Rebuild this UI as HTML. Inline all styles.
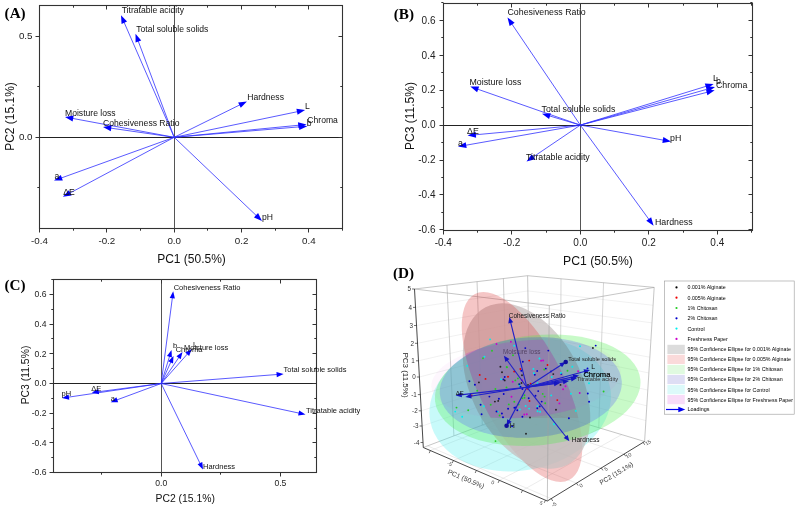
<!DOCTYPE html><html><head><meta charset="utf-8"><style>html,body{margin:0;padding:0;background:#fff;width:797px;height:508px;overflow:hidden}svg{display:block;will-change:transform}</style></head><body>
<svg width="797" height="508" viewBox="0 0 797 508">
<rect width="797" height="508" fill="#fff"/>
<rect x="39.5" y="5.5" width="303.0" height="223.0" fill="none" stroke="#333" stroke-width="1.1"/>
<line x1="174.50" y1="5.50" x2="174.50" y2="228.50" stroke="#555" stroke-width="1.0" />
<line x1="39.50" y1="137.50" x2="342.50" y2="137.50" stroke="#222" stroke-width="1.0" />
<line x1="39.50" y1="228.50" x2="39.50" y2="232.50" stroke="#333" stroke-width="1.0" />
<line x1="39.50" y1="5.50" x2="39.50" y2="9.50" stroke="#333" stroke-width="1.0" />
<line x1="73.50" y1="228.50" x2="73.50" y2="230.70" stroke="#333" stroke-width="1.0" />
<line x1="73.50" y1="5.50" x2="73.50" y2="7.70" stroke="#333" stroke-width="1.0" />
<line x1="106.50" y1="228.50" x2="106.50" y2="232.50" stroke="#333" stroke-width="1.0" />
<line x1="106.50" y1="5.50" x2="106.50" y2="9.50" stroke="#333" stroke-width="1.0" />
<line x1="140.50" y1="228.50" x2="140.50" y2="230.70" stroke="#333" stroke-width="1.0" />
<line x1="140.50" y1="5.50" x2="140.50" y2="7.70" stroke="#333" stroke-width="1.0" />
<line x1="174.50" y1="228.50" x2="174.50" y2="232.50" stroke="#333" stroke-width="1.0" />
<line x1="174.50" y1="5.50" x2="174.50" y2="9.50" stroke="#333" stroke-width="1.0" />
<line x1="207.50" y1="228.50" x2="207.50" y2="230.70" stroke="#333" stroke-width="1.0" />
<line x1="207.50" y1="5.50" x2="207.50" y2="7.70" stroke="#333" stroke-width="1.0" />
<line x1="241.50" y1="228.50" x2="241.50" y2="232.50" stroke="#333" stroke-width="1.0" />
<line x1="241.50" y1="5.50" x2="241.50" y2="9.50" stroke="#333" stroke-width="1.0" />
<line x1="275.50" y1="228.50" x2="275.50" y2="230.70" stroke="#333" stroke-width="1.0" />
<line x1="275.50" y1="5.50" x2="275.50" y2="7.70" stroke="#333" stroke-width="1.0" />
<line x1="308.50" y1="228.50" x2="308.50" y2="232.50" stroke="#333" stroke-width="1.0" />
<line x1="308.50" y1="5.50" x2="308.50" y2="9.50" stroke="#333" stroke-width="1.0" />
<line x1="342.50" y1="228.50" x2="342.50" y2="230.70" stroke="#333" stroke-width="1.0" />
<line x1="342.50" y1="5.50" x2="342.50" y2="7.70" stroke="#333" stroke-width="1.0" />
<line x1="39.50" y1="187.50" x2="37.30" y2="187.50" stroke="#333" stroke-width="1.0" />
<line x1="342.50" y1="187.50" x2="340.30" y2="187.50" stroke="#333" stroke-width="1.0" />
<line x1="39.50" y1="137.50" x2="35.50" y2="137.50" stroke="#333" stroke-width="1.0" />
<line x1="342.50" y1="137.50" x2="338.50" y2="137.50" stroke="#333" stroke-width="1.0" />
<line x1="39.50" y1="86.50" x2="37.30" y2="86.50" stroke="#333" stroke-width="1.0" />
<line x1="342.50" y1="86.50" x2="340.30" y2="86.50" stroke="#333" stroke-width="1.0" />
<line x1="39.50" y1="36.50" x2="35.50" y2="36.50" stroke="#333" stroke-width="1.0" />
<line x1="342.50" y1="36.50" x2="338.50" y2="36.50" stroke="#333" stroke-width="1.0" />
<text x="39.52" y="244.10" font-family="Liberation Sans" font-size="9.8" text-anchor="middle" fill="#222" font-weight="normal" >-0.4</text>
<text x="106.86" y="244.10" font-family="Liberation Sans" font-size="9.8" text-anchor="middle" fill="#222" font-weight="normal" >-0.2</text>
<text x="174.20" y="244.10" font-family="Liberation Sans" font-size="9.8" text-anchor="middle" fill="#222" font-weight="normal" >0.0</text>
<text x="241.54" y="244.10" font-family="Liberation Sans" font-size="9.8" text-anchor="middle" fill="#222" font-weight="normal" >0.2</text>
<text x="308.88" y="244.10" font-family="Liberation Sans" font-size="9.8" text-anchor="middle" fill="#222" font-weight="normal" >0.4</text>
<text x="32.50" y="140.44" font-family="Liberation Sans" font-size="9.8" text-anchor="end" fill="#222" font-weight="normal" >0.0</text>
<text x="32.50" y="39.14" font-family="Liberation Sans" font-size="9.8" text-anchor="end" fill="#222" font-weight="normal" >0.5</text>
<line x1="174.20" y1="137.30" x2="123.92" y2="21.89" stroke="#3030ff" stroke-width="0.8"/>
<polygon points="121.00,15.20 127.07,21.61 121.57,24.01" fill="#0000ff"/>
<line x1="174.20" y1="137.30" x2="138.06" y2="40.64" stroke="#3030ff" stroke-width="0.8"/>
<polygon points="135.50,33.80 141.22,40.52 135.60,42.62" fill="#0000ff"/>
<line x1="174.20" y1="137.30" x2="240.35" y2="104.63" stroke="#3030ff" stroke-width="0.8"/>
<polygon points="246.90,101.40 240.79,107.76 238.13,102.39" fill="#0000ff"/>
<line x1="174.20" y1="137.30" x2="297.95" y2="111.59" stroke="#3030ff" stroke-width="0.8"/>
<polygon points="305.10,110.10 297.58,114.73 296.36,108.85" fill="#0000ff"/>
<line x1="174.20" y1="137.30" x2="300.03" y2="126.81" stroke="#3030ff" stroke-width="0.8"/>
<polygon points="307.30,126.20 299.28,129.88 298.78,123.90" fill="#0000ff"/>
<line x1="174.20" y1="137.30" x2="299.23" y2="125.20" stroke="#3030ff" stroke-width="0.8"/>
<polygon points="306.50,124.50 298.53,128.29 297.95,122.31" fill="#0000ff"/>
<line x1="174.20" y1="137.30" x2="72.18" y2="118.33" stroke="#3030ff" stroke-width="0.8"/>
<polygon points="65.00,117.00 73.71,115.57 72.61,121.47" fill="#0000ff"/>
<line x1="174.20" y1="137.30" x2="110.22" y2="128.05" stroke="#3030ff" stroke-width="0.8"/>
<polygon points="103.00,127.00 111.64,125.22 110.78,131.16" fill="#0000ff"/>
<line x1="174.20" y1="137.30" x2="60.87" y2="178.13" stroke="#3030ff" stroke-width="0.8"/>
<polygon points="54.00,180.60 60.79,174.96 62.83,180.61" fill="#0000ff"/>
<line x1="174.20" y1="137.30" x2="69.34" y2="193.36" stroke="#3030ff" stroke-width="0.8"/>
<polygon points="62.90,196.80 68.81,190.24 71.63,195.53" fill="#0000ff"/>
<line x1="174.20" y1="137.30" x2="256.72" y2="215.96" stroke="#3030ff" stroke-width="0.8"/>
<polygon points="262.00,221.00 253.92,217.44 258.06,213.10" fill="#0000ff"/>
<text x="121.70" y="13.40" font-family="Liberation Sans" font-size="8.6" text-anchor="start" fill="#111" font-weight="normal" >Titratable acidity</text>
<text x="136.20" y="32.00" font-family="Liberation Sans" font-size="8.6" text-anchor="start" fill="#111" font-weight="normal" >Total soluble solids</text>
<text x="247.20" y="99.70" font-family="Liberation Sans" font-size="8.6" text-anchor="start" fill="#111" font-weight="normal" >Hardness</text>
<text x="305.00" y="108.50" font-family="Liberation Sans" font-size="8.6" text-anchor="start" fill="#111" font-weight="normal" >L</text>
<text x="306.80" y="125.60" font-family="Liberation Sans" font-size="8.6" text-anchor="start" fill="#111" font-weight="normal" >b</text>
<text x="307.30" y="123.40" font-family="Liberation Sans" font-size="8.6" text-anchor="start" fill="#111" font-weight="normal" >Chroma</text>
<text x="65.00" y="116.00" font-family="Liberation Sans" font-size="8.6" text-anchor="start" fill="#111" font-weight="normal" >Moisture loss</text>
<text x="103.00" y="125.50" font-family="Liberation Sans" font-size="8.6" text-anchor="start" fill="#111" font-weight="normal" >Cohesiveness Ratio</text>
<text x="54.60" y="179.00" font-family="Liberation Sans" font-size="8.6" text-anchor="start" fill="#111" font-weight="normal" >a</text>
<text x="63.20" y="195.00" font-family="Liberation Sans" font-size="8.6" text-anchor="start" fill="#111" font-weight="normal" >ΔE</text>
<text x="262.00" y="220.00" font-family="Liberation Sans" font-size="8.6" text-anchor="start" fill="#111" font-weight="normal" >pH</text>
<text x="191.50" y="262.50" font-family="Liberation Sans" font-size="12" text-anchor="middle" fill="#111" font-weight="normal" >PC1 (50.5%)</text>
<text x="14.30" y="116.50" font-family="Liberation Sans" font-size="12" text-anchor="middle" fill="#111" font-weight="normal" transform="rotate(-90 14.3 116.5)">PC2 (15.1%)</text>
<text x="4.60" y="17.90" font-family="Liberation Serif" font-size="15.2" text-anchor="start" fill="#000" font-weight="bold" >(A)</text>
<rect x="443.5" y="3.5" width="309.0" height="227.0" fill="none" stroke="#333" stroke-width="1.1"/>
<line x1="580.50" y1="3.50" x2="580.50" y2="230.50" stroke="#555" stroke-width="1.0" />
<line x1="443.50" y1="125.50" x2="752.50" y2="125.50" stroke="#222" stroke-width="1.0" />
<line x1="443.50" y1="230.50" x2="443.50" y2="234.50" stroke="#333" stroke-width="1.0" />
<line x1="443.50" y1="3.50" x2="443.50" y2="7.50" stroke="#333" stroke-width="1.0" />
<line x1="477.50" y1="230.50" x2="477.50" y2="232.70" stroke="#333" stroke-width="1.0" />
<line x1="477.50" y1="3.50" x2="477.50" y2="5.70" stroke="#333" stroke-width="1.0" />
<line x1="511.50" y1="230.50" x2="511.50" y2="234.50" stroke="#333" stroke-width="1.0" />
<line x1="511.50" y1="3.50" x2="511.50" y2="7.50" stroke="#333" stroke-width="1.0" />
<line x1="546.50" y1="230.50" x2="546.50" y2="232.70" stroke="#333" stroke-width="1.0" />
<line x1="546.50" y1="3.50" x2="546.50" y2="5.70" stroke="#333" stroke-width="1.0" />
<line x1="580.50" y1="230.50" x2="580.50" y2="234.50" stroke="#333" stroke-width="1.0" />
<line x1="580.50" y1="3.50" x2="580.50" y2="7.50" stroke="#333" stroke-width="1.0" />
<line x1="614.50" y1="230.50" x2="614.50" y2="232.70" stroke="#333" stroke-width="1.0" />
<line x1="614.50" y1="3.50" x2="614.50" y2="5.70" stroke="#333" stroke-width="1.0" />
<line x1="648.50" y1="230.50" x2="648.50" y2="234.50" stroke="#333" stroke-width="1.0" />
<line x1="648.50" y1="3.50" x2="648.50" y2="7.50" stroke="#333" stroke-width="1.0" />
<line x1="683.50" y1="230.50" x2="683.50" y2="232.70" stroke="#333" stroke-width="1.0" />
<line x1="683.50" y1="3.50" x2="683.50" y2="5.70" stroke="#333" stroke-width="1.0" />
<line x1="717.50" y1="230.50" x2="717.50" y2="234.50" stroke="#333" stroke-width="1.0" />
<line x1="717.50" y1="3.50" x2="717.50" y2="7.50" stroke="#333" stroke-width="1.0" />
<line x1="751.50" y1="230.50" x2="751.50" y2="232.70" stroke="#333" stroke-width="1.0" />
<line x1="751.50" y1="3.50" x2="751.50" y2="5.70" stroke="#333" stroke-width="1.0" />
<line x1="443.50" y1="229.50" x2="439.50" y2="229.50" stroke="#333" stroke-width="1.0" />
<line x1="752.50" y1="229.50" x2="748.50" y2="229.50" stroke="#333" stroke-width="1.0" />
<line x1="443.50" y1="212.50" x2="441.30" y2="212.50" stroke="#333" stroke-width="1.0" />
<line x1="752.50" y1="212.50" x2="750.30" y2="212.50" stroke="#333" stroke-width="1.0" />
<line x1="443.50" y1="194.50" x2="439.50" y2="194.50" stroke="#333" stroke-width="1.0" />
<line x1="752.50" y1="194.50" x2="748.50" y2="194.50" stroke="#333" stroke-width="1.0" />
<line x1="443.50" y1="177.50" x2="441.30" y2="177.50" stroke="#333" stroke-width="1.0" />
<line x1="752.50" y1="177.50" x2="750.30" y2="177.50" stroke="#333" stroke-width="1.0" />
<line x1="443.50" y1="160.50" x2="439.50" y2="160.50" stroke="#333" stroke-width="1.0" />
<line x1="752.50" y1="160.50" x2="748.50" y2="160.50" stroke="#333" stroke-width="1.0" />
<line x1="443.50" y1="142.50" x2="441.30" y2="142.50" stroke="#333" stroke-width="1.0" />
<line x1="752.50" y1="142.50" x2="750.30" y2="142.50" stroke="#333" stroke-width="1.0" />
<line x1="443.50" y1="125.50" x2="439.50" y2="125.50" stroke="#333" stroke-width="1.0" />
<line x1="752.50" y1="125.50" x2="748.50" y2="125.50" stroke="#333" stroke-width="1.0" />
<line x1="443.50" y1="107.50" x2="441.30" y2="107.50" stroke="#333" stroke-width="1.0" />
<line x1="752.50" y1="107.50" x2="750.30" y2="107.50" stroke="#333" stroke-width="1.0" />
<line x1="443.50" y1="90.50" x2="439.50" y2="90.50" stroke="#333" stroke-width="1.0" />
<line x1="752.50" y1="90.50" x2="748.50" y2="90.50" stroke="#333" stroke-width="1.0" />
<line x1="443.50" y1="72.50" x2="441.30" y2="72.50" stroke="#333" stroke-width="1.0" />
<line x1="752.50" y1="72.50" x2="750.30" y2="72.50" stroke="#333" stroke-width="1.0" />
<line x1="443.50" y1="55.50" x2="439.50" y2="55.50" stroke="#333" stroke-width="1.0" />
<line x1="752.50" y1="55.50" x2="748.50" y2="55.50" stroke="#333" stroke-width="1.0" />
<line x1="443.50" y1="37.50" x2="441.30" y2="37.50" stroke="#333" stroke-width="1.0" />
<line x1="752.50" y1="37.50" x2="750.30" y2="37.50" stroke="#333" stroke-width="1.0" />
<line x1="443.50" y1="20.50" x2="439.50" y2="20.50" stroke="#333" stroke-width="1.0" />
<line x1="752.50" y1="20.50" x2="748.50" y2="20.50" stroke="#333" stroke-width="1.0" />
<line x1="443.50" y1="2.50" x2="441.30" y2="2.50" stroke="#333" stroke-width="1.0" />
<line x1="752.50" y1="2.50" x2="750.30" y2="2.50" stroke="#333" stroke-width="1.0" />
<text x="443.30" y="246.30" font-family="Liberation Sans" font-size="10" text-anchor="middle" fill="#222" font-weight="normal" >-0.4</text>
<text x="511.80" y="246.30" font-family="Liberation Sans" font-size="10" text-anchor="middle" fill="#222" font-weight="normal" >-0.2</text>
<text x="580.30" y="246.30" font-family="Liberation Sans" font-size="10" text-anchor="middle" fill="#222" font-weight="normal" >0.0</text>
<text x="648.80" y="246.30" font-family="Liberation Sans" font-size="10" text-anchor="middle" fill="#222" font-weight="normal" >0.2</text>
<text x="717.30" y="246.30" font-family="Liberation Sans" font-size="10" text-anchor="middle" fill="#222" font-weight="normal" >0.4</text>
<text x="435.50" y="233.00" font-family="Liberation Sans" font-size="10" text-anchor="end" fill="#222" font-weight="normal" >-0.6</text>
<text x="435.50" y="198.10" font-family="Liberation Sans" font-size="10" text-anchor="end" fill="#222" font-weight="normal" >-0.4</text>
<text x="435.50" y="163.20" font-family="Liberation Sans" font-size="10" text-anchor="end" fill="#222" font-weight="normal" >-0.2</text>
<text x="435.50" y="128.30" font-family="Liberation Sans" font-size="10" text-anchor="end" fill="#222" font-weight="normal" >0.0</text>
<text x="435.50" y="93.40" font-family="Liberation Sans" font-size="10" text-anchor="end" fill="#222" font-weight="normal" >0.2</text>
<text x="435.50" y="58.50" font-family="Liberation Sans" font-size="10" text-anchor="end" fill="#222" font-weight="normal" >0.4</text>
<text x="435.50" y="23.60" font-family="Liberation Sans" font-size="10" text-anchor="end" fill="#222" font-weight="normal" >0.6</text>
<line x1="580.30" y1="125.10" x2="511.59" y2="23.55" stroke="#3030ff" stroke-width="0.8"/>
<polygon points="507.50,17.50 514.64,22.69 509.67,26.06" fill="#0000ff"/>
<line x1="580.30" y1="125.10" x2="477.19" y2="89.01" stroke="#3030ff" stroke-width="0.8"/>
<polygon points="470.30,86.60 479.13,86.51 477.14,92.17" fill="#0000ff"/>
<line x1="580.30" y1="125.10" x2="549.00" y2="115.78" stroke="#3030ff" stroke-width="0.8"/>
<polygon points="542.00,113.70 550.81,113.19 549.10,118.94" fill="#0000ff"/>
<line x1="580.30" y1="125.10" x2="474.87" y2="134.83" stroke="#3030ff" stroke-width="0.8"/>
<polygon points="467.60,135.50 475.59,131.75 476.14,137.72" fill="#0000ff"/>
<line x1="580.30" y1="125.10" x2="465.19" y2="145.34" stroke="#3030ff" stroke-width="0.8"/>
<polygon points="458.00,146.60 465.66,142.21 466.69,148.12" fill="#0000ff"/>
<line x1="580.30" y1="125.10" x2="532.55" y2="157.41" stroke="#3030ff" stroke-width="0.8"/>
<polygon points="526.50,161.50 531.69,154.36 535.06,159.33" fill="#0000ff"/>
<line x1="580.30" y1="125.10" x2="663.82" y2="140.20" stroke="#3030ff" stroke-width="0.8"/>
<polygon points="671.00,141.50 662.30,142.98 663.37,137.07" fill="#0000ff"/>
<line x1="580.30" y1="125.10" x2="649.30" y2="219.90" stroke="#3030ff" stroke-width="0.8"/>
<polygon points="653.60,225.80 646.29,220.86 651.14,217.32" fill="#0000ff"/>
<line x1="580.30" y1="125.10" x2="706.62" y2="86.15" stroke="#3030ff" stroke-width="0.8"/>
<polygon points="713.60,84.00 706.55,89.31 704.78,83.58" fill="#0000ff"/>
<line x1="580.30" y1="125.10" x2="707.98" y2="88.99" stroke="#3030ff" stroke-width="0.8"/>
<polygon points="715.00,87.00 707.83,92.15 706.20,86.37" fill="#0000ff"/>
<line x1="580.30" y1="125.10" x2="707.63" y2="92.13" stroke="#3030ff" stroke-width="0.8"/>
<polygon points="714.70,90.30 707.42,95.28 705.91,89.48" fill="#0000ff"/>
<text x="507.50" y="15.00" font-family="Liberation Sans" font-size="8.8" text-anchor="start" fill="#111" font-weight="normal" >Cohesiveness Ratio</text>
<text x="469.50" y="85.00" font-family="Liberation Sans" font-size="8.8" text-anchor="start" fill="#111" font-weight="normal" >Moisture loss</text>
<text x="541.50" y="112.20" font-family="Liberation Sans" font-size="8.8" text-anchor="start" fill="#111" font-weight="normal" >Total soluble solids</text>
<text x="467.00" y="134.00" font-family="Liberation Sans" font-size="8.8" text-anchor="start" fill="#111" font-weight="normal" >ΔE</text>
<text x="458.00" y="145.50" font-family="Liberation Sans" font-size="8.8" text-anchor="start" fill="#111" font-weight="normal" >a</text>
<text x="526.00" y="159.80" font-family="Liberation Sans" font-size="8.8" text-anchor="start" fill="#111" font-weight="normal" >Titratable acidity</text>
<text x="670.00" y="140.50" font-family="Liberation Sans" font-size="8.8" text-anchor="start" fill="#111" font-weight="normal" >pH</text>
<text x="655.00" y="224.50" font-family="Liberation Sans" font-size="8.8" text-anchor="start" fill="#111" font-weight="normal" >Hardness</text>
<text x="713.00" y="80.50" font-family="Liberation Sans" font-size="8.8" text-anchor="start" fill="#111" font-weight="normal" >L</text>
<text x="716.00" y="84.00" font-family="Liberation Sans" font-size="8.8" text-anchor="start" fill="#111" font-weight="normal" >b</text>
<text x="716.00" y="88.00" font-family="Liberation Sans" font-size="8.8" text-anchor="start" fill="#111" font-weight="normal" >Chroma</text>
<text x="598.00" y="264.50" font-family="Liberation Sans" font-size="12.2" text-anchor="middle" fill="#111" font-weight="normal" >PC1 (50.5%)</text>
<text x="414.30" y="116.00" font-family="Liberation Sans" font-size="12" text-anchor="middle" fill="#111" font-weight="normal" transform="rotate(-90 414.3 116)">PC3 (11.5%)</text>
<text x="393.80" y="18.60" font-family="Liberation Serif" font-size="15.2" text-anchor="start" fill="#000" font-weight="bold" >(B)</text>
<rect x="53.5" y="279.5" width="263.0" height="193.0" fill="none" stroke="#333" stroke-width="1.1"/>
<line x1="161.50" y1="279.50" x2="161.50" y2="472.50" stroke="#555" stroke-width="1.0" />
<line x1="53.50" y1="383.50" x2="316.50" y2="383.50" stroke="#222" stroke-width="1.0" />
<line x1="101.50" y1="472.50" x2="101.50" y2="474.70" stroke="#333" stroke-width="1.0" />
<line x1="101.50" y1="279.50" x2="101.50" y2="281.70" stroke="#333" stroke-width="1.0" />
<line x1="161.50" y1="472.50" x2="161.50" y2="476.50" stroke="#333" stroke-width="1.0" />
<line x1="161.50" y1="279.50" x2="161.50" y2="283.50" stroke="#333" stroke-width="1.0" />
<line x1="220.50" y1="472.50" x2="220.50" y2="474.70" stroke="#333" stroke-width="1.0" />
<line x1="220.50" y1="279.50" x2="220.50" y2="281.70" stroke="#333" stroke-width="1.0" />
<line x1="280.50" y1="472.50" x2="280.50" y2="476.50" stroke="#333" stroke-width="1.0" />
<line x1="280.50" y1="279.50" x2="280.50" y2="283.50" stroke="#333" stroke-width="1.0" />
<line x1="53.50" y1="472.50" x2="49.50" y2="472.50" stroke="#333" stroke-width="1.0" />
<line x1="316.50" y1="472.50" x2="312.50" y2="472.50" stroke="#333" stroke-width="1.0" />
<line x1="53.50" y1="457.50" x2="51.30" y2="457.50" stroke="#333" stroke-width="1.0" />
<line x1="316.50" y1="457.50" x2="314.30" y2="457.50" stroke="#333" stroke-width="1.0" />
<line x1="53.50" y1="442.50" x2="49.50" y2="442.50" stroke="#333" stroke-width="1.0" />
<line x1="316.50" y1="442.50" x2="312.50" y2="442.50" stroke="#333" stroke-width="1.0" />
<line x1="53.50" y1="428.50" x2="51.30" y2="428.50" stroke="#333" stroke-width="1.0" />
<line x1="316.50" y1="428.50" x2="314.30" y2="428.50" stroke="#333" stroke-width="1.0" />
<line x1="53.50" y1="413.50" x2="49.50" y2="413.50" stroke="#333" stroke-width="1.0" />
<line x1="316.50" y1="413.50" x2="312.50" y2="413.50" stroke="#333" stroke-width="1.0" />
<line x1="53.50" y1="398.50" x2="51.30" y2="398.50" stroke="#333" stroke-width="1.0" />
<line x1="316.50" y1="398.50" x2="314.30" y2="398.50" stroke="#333" stroke-width="1.0" />
<line x1="53.50" y1="383.50" x2="49.50" y2="383.50" stroke="#333" stroke-width="1.0" />
<line x1="316.50" y1="383.50" x2="312.50" y2="383.50" stroke="#333" stroke-width="1.0" />
<line x1="53.50" y1="368.50" x2="51.30" y2="368.50" stroke="#333" stroke-width="1.0" />
<line x1="316.50" y1="368.50" x2="314.30" y2="368.50" stroke="#333" stroke-width="1.0" />
<line x1="53.50" y1="353.50" x2="49.50" y2="353.50" stroke="#333" stroke-width="1.0" />
<line x1="316.50" y1="353.50" x2="312.50" y2="353.50" stroke="#333" stroke-width="1.0" />
<line x1="53.50" y1="338.50" x2="51.30" y2="338.50" stroke="#333" stroke-width="1.0" />
<line x1="316.50" y1="338.50" x2="314.30" y2="338.50" stroke="#333" stroke-width="1.0" />
<line x1="53.50" y1="324.50" x2="49.50" y2="324.50" stroke="#333" stroke-width="1.0" />
<line x1="316.50" y1="324.50" x2="312.50" y2="324.50" stroke="#333" stroke-width="1.0" />
<line x1="53.50" y1="309.50" x2="51.30" y2="309.50" stroke="#333" stroke-width="1.0" />
<line x1="316.50" y1="309.50" x2="314.30" y2="309.50" stroke="#333" stroke-width="1.0" />
<line x1="53.50" y1="294.50" x2="49.50" y2="294.50" stroke="#333" stroke-width="1.0" />
<line x1="316.50" y1="294.50" x2="312.50" y2="294.50" stroke="#333" stroke-width="1.0" />
<line x1="53.50" y1="279.50" x2="51.30" y2="279.50" stroke="#333" stroke-width="1.0" />
<line x1="316.50" y1="279.50" x2="314.30" y2="279.50" stroke="#333" stroke-width="1.0" />
<text x="161.20" y="486.10" font-family="Liberation Sans" font-size="8.6" text-anchor="middle" fill="#222" font-weight="normal" >0.0</text>
<text x="280.40" y="486.10" font-family="Liberation Sans" font-size="8.6" text-anchor="middle" fill="#222" font-weight="normal" >0.5</text>
<text x="46.50" y="475.47" font-family="Liberation Sans" font-size="8.6" text-anchor="end" fill="#222" font-weight="normal" >-0.6</text>
<text x="46.50" y="445.73" font-family="Liberation Sans" font-size="8.6" text-anchor="end" fill="#222" font-weight="normal" >-0.4</text>
<text x="46.50" y="415.99" font-family="Liberation Sans" font-size="8.6" text-anchor="end" fill="#222" font-weight="normal" >-0.2</text>
<text x="46.50" y="386.25" font-family="Liberation Sans" font-size="8.6" text-anchor="end" fill="#222" font-weight="normal" >0.0</text>
<text x="46.50" y="356.51" font-family="Liberation Sans" font-size="8.6" text-anchor="end" fill="#222" font-weight="normal" >0.2</text>
<text x="46.50" y="326.77" font-family="Liberation Sans" font-size="8.6" text-anchor="end" fill="#222" font-weight="normal" >0.4</text>
<text x="46.50" y="297.03" font-family="Liberation Sans" font-size="8.6" text-anchor="end" fill="#222" font-weight="normal" >0.6</text>
<line x1="161.20" y1="383.50" x2="172.43" y2="297.25" stroke="#3030ff" stroke-width="0.8"/>
<polygon points="173.20,291.30 174.87,298.58 169.72,297.91" fill="#0000ff"/>
<line x1="161.20" y1="383.50" x2="169.74" y2="355.74" stroke="#3030ff" stroke-width="0.8"/>
<polygon points="171.50,350.00 171.93,357.45 166.96,355.93" fill="#0000ff"/>
<line x1="161.20" y1="383.50" x2="171.05" y2="361.48" stroke="#3030ff" stroke-width="0.8"/>
<polygon points="173.50,356.00 173.02,363.45 168.27,361.33" fill="#0000ff"/>
<line x1="161.20" y1="383.50" x2="179.14" y2="356.97" stroke="#3030ff" stroke-width="0.8"/>
<polygon points="182.50,352.00 180.73,359.26 176.43,356.34" fill="#0000ff"/>
<line x1="161.20" y1="383.50" x2="187.82" y2="353.49" stroke="#3030ff" stroke-width="0.8"/>
<polygon points="191.80,349.00 189.10,355.96 185.21,352.51" fill="#0000ff"/>
<line x1="161.20" y1="383.50" x2="277.62" y2="374.46" stroke="#3030ff" stroke-width="0.8"/>
<polygon points="283.60,374.00 276.82,377.13 276.42,371.95" fill="#0000ff"/>
<line x1="161.20" y1="383.50" x2="299.63" y2="413.24" stroke="#3030ff" stroke-width="0.8"/>
<polygon points="305.50,414.50 298.11,415.57 299.20,410.49" fill="#0000ff"/>
<line x1="161.20" y1="383.50" x2="200.38" y2="464.10" stroke="#3030ff" stroke-width="0.8"/>
<polygon points="203.00,469.50 197.60,464.34 202.28,462.07" fill="#0000ff"/>
<line x1="161.20" y1="383.50" x2="67.94" y2="397.23" stroke="#3030ff" stroke-width="0.8"/>
<polygon points="62.00,398.10 68.55,394.51 69.30,399.65" fill="#0000ff"/>
<line x1="161.20" y1="383.50" x2="97.75" y2="391.82" stroke="#3030ff" stroke-width="0.8"/>
<polygon points="91.80,392.60 98.40,389.11 99.08,394.27" fill="#0000ff"/>
<line x1="161.20" y1="383.50" x2="116.33" y2="400.12" stroke="#3030ff" stroke-width="0.8"/>
<polygon points="110.70,402.20 116.36,397.33 118.17,402.21" fill="#0000ff"/>
<text x="173.70" y="290.00" font-family="Liberation Sans" font-size="7.5" text-anchor="start" fill="#111" font-weight="normal" >Cohesiveness Ratio</text>
<text x="173.00" y="348.00" font-family="Liberation Sans" font-size="7.5" text-anchor="start" fill="#111" font-weight="normal" >b</text>
<text x="175.70" y="352.00" font-family="Liberation Sans" font-size="7.5" text-anchor="start" fill="#111" font-weight="normal" >Chroma</text>
<text x="184.00" y="349.50" font-family="Liberation Sans" font-size="7.5" text-anchor="start" fill="#111" font-weight="normal" >Moisture loss</text>
<text x="193.00" y="347.00" font-family="Liberation Sans" font-size="7.5" text-anchor="start" fill="#111" font-weight="normal" >L</text>
<text x="283.60" y="372.00" font-family="Liberation Sans" font-size="7.5" text-anchor="start" fill="#111" font-weight="normal" >Total soluble solids</text>
<text x="306.00" y="413.20" font-family="Liberation Sans" font-size="7.5" text-anchor="start" fill="#111" font-weight="normal" >Titratable acidity</text>
<text x="203.00" y="468.50" font-family="Liberation Sans" font-size="7.5" text-anchor="start" fill="#111" font-weight="normal" >Hardness</text>
<text x="61.50" y="396.40" font-family="Liberation Sans" font-size="7.5" text-anchor="start" fill="#111" font-weight="normal" >pH</text>
<text x="91.30" y="391.30" font-family="Liberation Sans" font-size="7.5" text-anchor="start" fill="#111" font-weight="normal" >ΔE</text>
<text x="110.70" y="400.70" font-family="Liberation Sans" font-size="7.5" text-anchor="start" fill="#111" font-weight="normal" >a</text>
<text x="185.20" y="502.30" font-family="Liberation Sans" font-size="10.4" text-anchor="middle" fill="#111" font-weight="normal" >PC2 (15.1%)</text>
<text x="28.50" y="375.00" font-family="Liberation Sans" font-size="10.4" text-anchor="middle" fill="#111" font-weight="normal" transform="rotate(-90 28.5 375)">PC3 (11.5%)</text>
<text x="4.40" y="289.60" font-family="Liberation Serif" font-size="15.2" text-anchor="start" fill="#000" font-weight="bold" >(C)</text>
<text x="393.00" y="278.00" font-family="Liberation Serif" font-size="15.2" text-anchor="start" fill="#000" font-weight="bold" >(D)</text>
<line x1="415.52" y1="307.40" x2="527.88" y2="290.94" stroke="#e2e2e2" stroke-width="0.5" />
<line x1="527.88" y1="290.94" x2="653.09" y2="305.29" stroke="#e2e2e2" stroke-width="0.5" />
<line x1="416.53" y1="325.50" x2="528.15" y2="305.94" stroke="#e2e2e2" stroke-width="0.5" />
<line x1="528.15" y1="305.94" x2="651.99" y2="322.89" stroke="#e2e2e2" stroke-width="0.5" />
<line x1="417.51" y1="343.30" x2="528.42" y2="320.68" stroke="#e2e2e2" stroke-width="0.5" />
<line x1="528.42" y1="320.68" x2="650.91" y2="340.19" stroke="#e2e2e2" stroke-width="0.5" />
<line x1="418.49" y1="360.80" x2="528.69" y2="335.18" stroke="#e2e2e2" stroke-width="0.5" />
<line x1="528.69" y1="335.18" x2="649.85" y2="357.21" stroke="#e2e2e2" stroke-width="0.5" />
<line x1="419.39" y1="377.00" x2="528.93" y2="348.60" stroke="#e2e2e2" stroke-width="0.5" />
<line x1="528.93" y1="348.60" x2="648.87" y2="372.96" stroke="#e2e2e2" stroke-width="0.5" />
<line x1="420.36" y1="394.60" x2="529.20" y2="363.18" stroke="#e2e2e2" stroke-width="0.5" />
<line x1="529.20" y1="363.18" x2="647.80" y2="390.07" stroke="#e2e2e2" stroke-width="0.5" />
<line x1="421.26" y1="410.80" x2="529.44" y2="376.60" stroke="#e2e2e2" stroke-width="0.5" />
<line x1="529.44" y1="376.60" x2="646.82" y2="405.82" stroke="#e2e2e2" stroke-width="0.5" />
<line x1="422.11" y1="426.00" x2="529.67" y2="389.19" stroke="#e2e2e2" stroke-width="0.5" />
<line x1="529.67" y1="389.19" x2="645.90" y2="420.60" stroke="#e2e2e2" stroke-width="0.5" />
<line x1="446.96" y1="285.18" x2="453.92" y2="435.88" stroke="#a8a8a8" stroke-width="0.6" />
<line x1="477.04" y1="281.65" x2="482.31" y2="425.10" stroke="#a8a8a8" stroke-width="0.6" />
<line x1="503.40" y1="278.55" x2="507.17" y2="415.67" stroke="#a8a8a8" stroke-width="0.6" />
<line x1="561.02" y1="278.79" x2="560.25" y2="416.11" stroke="#b4b4b4" stroke-width="0.55" />
<line x1="603.56" y1="282.72" x2="598.76" y2="427.70" stroke="#b4b4b4" stroke-width="0.55" />
<line x1="427.57" y1="445.88" x2="551.19" y2="498.62" stroke="#d8d8d8" stroke-width="0.5" />
<line x1="455.31" y1="435.35" x2="576.49" y2="483.15" stroke="#d8d8d8" stroke-width="0.5" />
<line x1="482.52" y1="425.02" x2="601.30" y2="467.98" stroke="#d8d8d8" stroke-width="0.5" />
<line x1="507.59" y1="415.50" x2="624.17" y2="454.00" stroke="#d8d8d8" stroke-width="0.5" />
<line x1="430.37" y1="450.55" x2="536.53" y2="408.97" stroke="#d8d8d8" stroke-width="0.5" />
<line x1="453.43" y1="460.50" x2="557.85" y2="415.38" stroke="#d8d8d8" stroke-width="0.5" />
<line x1="476.37" y1="470.40" x2="579.05" y2="421.77" stroke="#d8d8d8" stroke-width="0.5" />
<line x1="499.31" y1="480.30" x2="600.25" y2="428.15" stroke="#d8d8d8" stroke-width="0.5" />
<line x1="522.50" y1="490.30" x2="621.68" y2="434.60" stroke="#d8d8d8" stroke-width="0.5" />
<line x1="414.50" y1="289.00" x2="527.60" y2="275.70" stroke="#a0a0a0" stroke-width="0.6" />
<line x1="527.60" y1="275.70" x2="654.20" y2="287.40" stroke="#a0a0a0" stroke-width="0.6" />
<line x1="654.20" y1="287.40" x2="549.30" y2="305.50" stroke="#a0a0a0" stroke-width="0.6" />
<line x1="549.30" y1="305.50" x2="414.50" y2="289.00" stroke="#a0a0a0" stroke-width="0.6" />
<line x1="527.60" y1="275.70" x2="530.00" y2="407.00" stroke="#a0a0a0" stroke-width="0.6" />
<line x1="423.30" y1="447.50" x2="530.00" y2="407.00" stroke="#a0a0a0" stroke-width="0.6" />
<line x1="530.00" y1="407.00" x2="644.60" y2="441.50" stroke="#a0a0a0" stroke-width="0.6" />
<clipPath id="lowclip"><rect x="380" y="418" width="300" height="100"/></clipPath>
<clipPath id="highclip"><rect x="380" y="260" width="300" height="158"/></clipPath>
<ellipse cx="520.2" cy="404.4" rx="91.5" ry="66.1" transform="rotate(-10.6 520.2 404.4)" fill="rgb(72,238,238)" fill-opacity="0.3"/>
<g clip-path="url(#lowclip)"><ellipse cx="522" cy="387" rx="104.3" ry="42.2" transform="rotate(63.2 522 387)" fill="rgb(218,45,45)" fill-opacity="0.27"/></g>
<ellipse cx="526.5" cy="386" rx="88.7" ry="55" transform="rotate(62.5 526.5 386)" fill="rgb(200,192,192)" fill-opacity="0.78"/>
<g clip-path="url(#highclip)"><ellipse cx="522" cy="387" rx="104.3" ry="42.2" transform="rotate(63.2 522 387)" fill="rgb(218,45,45)" fill-opacity="0.27"/></g>
<ellipse cx="537.7" cy="390.2" rx="103.2" ry="55" transform="rotate(-6.1 537.7 390.2)" fill="rgb(72,238,72)" fill-opacity="0.3"/>
<ellipse cx="530.8" cy="387.5" rx="91.2" ry="50" transform="rotate(-4.0 530.8 387.5)" fill="rgb(95,105,250)" fill-opacity="0.3"/>
<clipPath id="grayclip"><ellipse cx="526.5" cy="386" rx="88.7" ry="55" transform="rotate(62.5 526.5 386)"/></clipPath>
<clipPath id="blueclip"><ellipse cx="530.8" cy="387.5" rx="91.2" ry="50" transform="rotate(-4 530.8 387.5)"/></clipPath>
<g clip-path="url(#grayclip)"><g clip-path="url(#blueclip)"><rect x="400" y="300" width="250" height="200" fill="rgb(60,140,120)" fill-opacity="0.15"/></g></g>
<clipPath id="pinkclip"><ellipse cx="522" cy="387" rx="104.3" ry="42.2" transform="rotate(63.2 522 387)"/></clipPath>
<g clip-path="url(#pinkclip)"><ellipse cx="526" cy="379" rx="95" ry="38.5" transform="rotate(-5 526 379)" fill="rgb(170,60,200)" fill-opacity="0.25"/></g>
<ellipse cx="526" cy="379" rx="95" ry="38.5" transform="rotate(-5 526 379)" fill="rgb(220,80,220)" fill-opacity="0.05"/>
<line x1="549.30" y1="305.50" x2="547.30" y2="501.00" stroke="#a0a0a0" stroke-width="0.6" />
<line x1="654.20" y1="287.40" x2="644.60" y2="441.50" stroke="#a0a0a0" stroke-width="0.6" />
<line x1="414.50" y1="289.00" x2="423.30" y2="447.50" stroke="#333" stroke-width="0.9" />
<line x1="423.30" y1="447.50" x2="547.30" y2="501.00" stroke="#333" stroke-width="0.9" />
<line x1="547.30" y1="501.00" x2="644.60" y2="441.50" stroke="#333" stroke-width="0.9" />
<line x1="414.50" y1="289.00" x2="412.00" y2="289.00" stroke="#333" stroke-width="0.7" />
<text x="410.90" y="291.20" font-family="Liberation Sans" font-size="6.3" text-anchor="end" fill="#333" font-weight="normal" >5</text>
<line x1="415.52" y1="307.40" x2="413.02" y2="307.40" stroke="#333" stroke-width="0.7" />
<text x="411.92" y="309.60" font-family="Liberation Sans" font-size="6.3" text-anchor="end" fill="#333" font-weight="normal" >4</text>
<line x1="416.53" y1="325.50" x2="414.03" y2="325.50" stroke="#333" stroke-width="0.7" />
<text x="412.93" y="327.70" font-family="Liberation Sans" font-size="6.3" text-anchor="end" fill="#333" font-weight="normal" >3</text>
<line x1="417.51" y1="343.30" x2="415.01" y2="343.30" stroke="#333" stroke-width="0.7" />
<text x="413.91" y="345.50" font-family="Liberation Sans" font-size="6.3" text-anchor="end" fill="#333" font-weight="normal" >2</text>
<line x1="418.49" y1="360.80" x2="415.99" y2="360.80" stroke="#333" stroke-width="0.7" />
<text x="414.89" y="363.00" font-family="Liberation Sans" font-size="6.3" text-anchor="end" fill="#333" font-weight="normal" >1</text>
<line x1="419.39" y1="377.00" x2="416.89" y2="377.00" stroke="#333" stroke-width="0.7" />
<text x="415.79" y="379.20" font-family="Liberation Sans" font-size="6.3" text-anchor="end" fill="#333" font-weight="normal" >0</text>
<line x1="420.36" y1="394.60" x2="417.86" y2="394.60" stroke="#333" stroke-width="0.7" />
<text x="416.76" y="396.80" font-family="Liberation Sans" font-size="6.3" text-anchor="end" fill="#333" font-weight="normal" >-1</text>
<line x1="421.26" y1="410.80" x2="418.76" y2="410.80" stroke="#333" stroke-width="0.7" />
<text x="417.66" y="413.00" font-family="Liberation Sans" font-size="6.3" text-anchor="end" fill="#333" font-weight="normal" >-2</text>
<line x1="422.11" y1="426.00" x2="419.61" y2="426.00" stroke="#333" stroke-width="0.7" />
<text x="418.51" y="428.20" font-family="Liberation Sans" font-size="6.3" text-anchor="end" fill="#333" font-weight="normal" >-3</text>
<line x1="423.02" y1="442.50" x2="420.52" y2="442.50" stroke="#333" stroke-width="0.7" />
<text x="419.42" y="444.70" font-family="Liberation Sans" font-size="6.3" text-anchor="end" fill="#333" font-weight="normal" >-4</text>
<line x1="430.37" y1="450.55" x2="429.17" y2="453.15" stroke="#333" stroke-width="0.7" />
<line x1="453.43" y1="460.50" x2="452.23" y2="463.10" stroke="#333" stroke-width="0.7" />
<line x1="476.37" y1="470.40" x2="475.17" y2="473.00" stroke="#333" stroke-width="0.7" />
<line x1="499.31" y1="480.30" x2="498.11" y2="482.90" stroke="#333" stroke-width="0.7" />
<line x1="522.50" y1="490.30" x2="521.30" y2="492.90" stroke="#333" stroke-width="0.7" />
<line x1="545.44" y1="500.20" x2="544.24" y2="502.80" stroke="#333" stroke-width="0.7" />
<text x="449.00" y="465.50" font-family="Liberation Sans" font-size="5.2" text-anchor="middle" fill="#444" font-weight="normal" transform="rotate(23 449 465.5)">-5</text>
<text x="492.00" y="484.00" font-family="Liberation Sans" font-size="5.2" text-anchor="middle" fill="#444" font-weight="normal" transform="rotate(23 492 484)">0</text>
<text x="540.50" y="504.50" font-family="Liberation Sans" font-size="5.2" text-anchor="middle" fill="#444" font-weight="normal" transform="rotate(23 540.5 504.5)">5</text>
<line x1="551.19" y1="498.62" x2="552.79" y2="501.02" stroke="#333" stroke-width="0.7" />
<line x1="576.49" y1="483.15" x2="578.09" y2="485.55" stroke="#333" stroke-width="0.7" />
<line x1="601.30" y1="467.98" x2="602.90" y2="470.38" stroke="#333" stroke-width="0.7" />
<line x1="624.17" y1="454.00" x2="625.77" y2="456.39" stroke="#333" stroke-width="0.7" />
<line x1="643.14" y1="442.39" x2="644.74" y2="444.79" stroke="#333" stroke-width="0.7" />
<text x="555.00" y="506.00" font-family="Liberation Sans" font-size="5.2" text-anchor="middle" fill="#444" font-weight="normal" transform="rotate(-32 555 506)">-5</text>
<text x="582.00" y="487.00" font-family="Liberation Sans" font-size="5.2" text-anchor="middle" fill="#444" font-weight="normal" transform="rotate(-32 582 487)">0</text>
<text x="607.00" y="470.50" font-family="Liberation Sans" font-size="5.2" text-anchor="middle" fill="#444" font-weight="normal" transform="rotate(-32 607 470.5)">5</text>
<text x="629.50" y="457.00" font-family="Liberation Sans" font-size="5.2" text-anchor="middle" fill="#444" font-weight="normal" transform="rotate(-32 629.5 457)">10</text>
<text x="649.00" y="444.00" font-family="Liberation Sans" font-size="5.2" text-anchor="middle" fill="#444" font-weight="normal" transform="rotate(-32 649 444)">15</text>
<circle cx="530.0" cy="417.5" r="0.95" fill="#222"/>
<circle cx="497.2" cy="411.8" r="0.95" fill="#e00"/>
<circle cx="518.7" cy="384.2" r="0.95" fill="#2c2"/>
<circle cx="587.8" cy="393.5" r="0.95" fill="#00c"/>
<circle cx="525.6" cy="406.0" r="0.95" fill="#0ee"/>
<circle cx="563.1" cy="389.3" r="0.95" fill="#c0c"/>
<circle cx="545.8" cy="368.6" r="0.95" fill="#00c"/>
<circle cx="515.3" cy="380.4" r="0.95" fill="#2c2"/>
<circle cx="484.4" cy="356.8" r="0.95" fill="#0ee"/>
<circle cx="474.9" cy="384.7" r="0.95" fill="#00c"/>
<circle cx="521.5" cy="383.0" r="0.95" fill="#222"/>
<circle cx="529.2" cy="360.6" r="0.95" fill="#e00"/>
<circle cx="524.5" cy="395.2" r="0.95" fill="#2c2"/>
<circle cx="551.0" cy="371.4" r="0.95" fill="#00c"/>
<circle cx="514.2" cy="345.7" r="0.95" fill="#0ee"/>
<circle cx="510.9" cy="341.7" r="0.95" fill="#c0c"/>
<circle cx="481.6" cy="414.2" r="0.95" fill="#00c"/>
<circle cx="456.5" cy="407.6" r="0.95" fill="#2c2"/>
<circle cx="537.5" cy="383.1" r="0.95" fill="#0ee"/>
<circle cx="541.7" cy="401.6" r="0.95" fill="#00c"/>
<circle cx="560.5" cy="384.9" r="0.95" fill="#222"/>
<circle cx="508.0" cy="376.7" r="0.95" fill="#e00"/>
<circle cx="495.4" cy="389.0" r="0.95" fill="#2c2"/>
<circle cx="501.9" cy="413.5" r="0.95" fill="#00c"/>
<circle cx="467.2" cy="365.9" r="0.95" fill="#0ee"/>
<circle cx="496.5" cy="344.0" r="0.95" fill="#c0c"/>
<circle cx="517.9" cy="378.4" r="0.95" fill="#2c2"/>
<circle cx="580.0" cy="346.3" r="0.95" fill="#0ee"/>
<circle cx="561.3" cy="373.9" r="0.95" fill="#00c"/>
<circle cx="522.0" cy="375.2" r="0.95" fill="#222"/>
<circle cx="547.5" cy="365.0" r="0.95" fill="#e00"/>
<circle cx="524.5" cy="397.8" r="0.95" fill="#2c2"/>
<circle cx="575.8" cy="410.9" r="0.95" fill="#0ee"/>
<circle cx="511.5" cy="396.7" r="0.95" fill="#c0c"/>
<circle cx="512.1" cy="426.2" r="0.95" fill="#00c"/>
<circle cx="533.7" cy="385.3" r="0.95" fill="#2c2"/>
<circle cx="519.7" cy="385.6" r="0.95" fill="#0ee"/>
<circle cx="521.3" cy="370.7" r="0.95" fill="#00c"/>
<circle cx="592.9" cy="348.0" r="0.95" fill="#222"/>
<circle cx="522.3" cy="398.2" r="0.95" fill="#2c2"/>
<circle cx="520.5" cy="386.7" r="0.95" fill="#00c"/>
<circle cx="537.6" cy="411.3" r="0.95" fill="#0ee"/>
<circle cx="512.7" cy="381.8" r="0.95" fill="#c0c"/>
<circle cx="589.1" cy="401.7" r="0.95" fill="#00c"/>
<circle cx="495.5" cy="441.1" r="0.95" fill="#2c2"/>
<circle cx="551.8" cy="377.0" r="0.95" fill="#0ee"/>
<circle cx="489.4" cy="396.6" r="0.95" fill="#00c"/>
<circle cx="500.4" cy="366.7" r="0.95" fill="#222"/>
<circle cx="485.5" cy="378.9" r="0.95" fill="#e00"/>
<circle cx="562.4" cy="380.5" r="0.95" fill="#2c2"/>
<circle cx="480.6" cy="404.7" r="0.95" fill="#00c"/>
<circle cx="529.1" cy="408.6" r="0.95" fill="#0ee"/>
<circle cx="565.5" cy="386.3" r="0.95" fill="#c0c"/>
<circle cx="522.4" cy="389.0" r="0.95" fill="#00c"/>
<circle cx="490.7" cy="404.7" r="0.95" fill="#2c2"/>
<circle cx="570.9" cy="393.8" r="0.95" fill="#0ee"/>
<circle cx="519.4" cy="384.3" r="0.95" fill="#00c"/>
<circle cx="502.0" cy="372.3" r="0.95" fill="#222"/>
<circle cx="514.2" cy="371.5" r="0.95" fill="#e00"/>
<circle cx="513.0" cy="355.3" r="0.95" fill="#2c2"/>
<circle cx="538.2" cy="391.1" r="0.95" fill="#00c"/>
<circle cx="490.1" cy="339.4" r="0.95" fill="#0ee"/>
<circle cx="526.8" cy="414.3" r="0.95" fill="#c0c"/>
<circle cx="503.5" cy="379.4" r="0.95" fill="#00c"/>
<circle cx="508.8" cy="404.4" r="0.95" fill="#2c2"/>
<circle cx="497.7" cy="411.7" r="0.95" fill="#0ee"/>
<circle cx="517.3" cy="410.3" r="0.95" fill="#00c"/>
<circle cx="528.0" cy="384.9" r="0.95" fill="#222"/>
<circle cx="479.7" cy="374.9" r="0.95" fill="#e00"/>
<circle cx="518.6" cy="404.5" r="0.95" fill="#2c2"/>
<circle cx="534.8" cy="374.7" r="0.95" fill="#00c"/>
<circle cx="540.1" cy="411.7" r="0.95" fill="#0ee"/>
<circle cx="522.2" cy="380.3" r="0.95" fill="#c0c"/>
<circle cx="514.4" cy="407.8" r="0.95" fill="#00c"/>
<circle cx="544.2" cy="369.5" r="0.95" fill="#2c2"/>
<circle cx="539.0" cy="379.4" r="0.95" fill="#0ee"/>
<circle cx="503.0" cy="417.3" r="0.95" fill="#00c"/>
<circle cx="553.3" cy="374.1" r="0.95" fill="#222"/>
<circle cx="529.5" cy="401.0" r="0.95" fill="#e00"/>
<circle cx="506.5" cy="387.4" r="0.95" fill="#2c2"/>
<circle cx="548.3" cy="350.6" r="0.95" fill="#00c"/>
<circle cx="537.5" cy="406.3" r="0.95" fill="#0ee"/>
<circle cx="543.1" cy="360.5" r="0.95" fill="#c0c"/>
<circle cx="537.2" cy="371.0" r="0.95" fill="#00c"/>
<circle cx="545.2" cy="403.3" r="0.95" fill="#2c2"/>
<circle cx="533.9" cy="373.2" r="0.95" fill="#0ee"/>
<circle cx="508.1" cy="408.8" r="0.95" fill="#00c"/>
<circle cx="498.2" cy="400.9" r="0.95" fill="#222"/>
<circle cx="543.4" cy="383.9" r="0.95" fill="#e00"/>
<circle cx="603.6" cy="391.5" r="0.95" fill="#2c2"/>
<circle cx="595.7" cy="345.6" r="0.95" fill="#00c"/>
<circle cx="455.2" cy="411.6" r="0.95" fill="#0ee"/>
<circle cx="547.4" cy="383.1" r="0.95" fill="#c0c"/>
<circle cx="525.3" cy="348.1" r="0.95" fill="#00c"/>
<circle cx="506.9" cy="367.3" r="0.95" fill="#2c2"/>
<circle cx="519.9" cy="409.5" r="0.95" fill="#0ee"/>
<circle cx="528.7" cy="398.2" r="0.95" fill="#00c"/>
<circle cx="504.7" cy="380.4" r="0.95" fill="#222"/>
<circle cx="530.6" cy="383.8" r="0.95" fill="#e00"/>
<circle cx="567.5" cy="370.7" r="0.95" fill="#2c2"/>
<circle cx="587.5" cy="368.4" r="0.95" fill="#00c"/>
<circle cx="560.9" cy="373.0" r="0.95" fill="#0ee"/>
<circle cx="579.7" cy="393.0" r="0.95" fill="#c0c"/>
<circle cx="539.7" cy="406.4" r="0.95" fill="#00c"/>
<circle cx="506.7" cy="367.1" r="0.95" fill="#2c2"/>
<circle cx="462.2" cy="416.8" r="0.95" fill="#0ee"/>
<circle cx="504.7" cy="377.0" r="0.95" fill="#00c"/>
<circle cx="526.0" cy="433.8" r="0.95" fill="#222"/>
<circle cx="471.7" cy="395.5" r="0.95" fill="#e00"/>
<circle cx="514.3" cy="401.7" r="0.95" fill="#2c2"/>
<circle cx="469.4" cy="381.2" r="0.95" fill="#00c"/>
<circle cx="553.9" cy="424.3" r="0.95" fill="#0ee"/>
<circle cx="578.1" cy="371.2" r="0.95" fill="#c0c"/>
<circle cx="528.8" cy="387.6" r="0.95" fill="#00c"/>
<circle cx="483.0" cy="358.3" r="0.95" fill="#2c2"/>
<circle cx="551.2" cy="395.4" r="0.95" fill="#0ee"/>
<circle cx="522.4" cy="416.7" r="0.95" fill="#00c"/>
<circle cx="494.9" cy="401.6" r="0.95" fill="#222"/>
<circle cx="527.3" cy="388.7" r="0.95" fill="#e00"/>
<circle cx="542.7" cy="393.9" r="0.95" fill="#2c2"/>
<circle cx="535.5" cy="395.8" r="0.95" fill="#00c"/>
<circle cx="589.0" cy="383.2" r="0.95" fill="#0ee"/>
<circle cx="559.4" cy="403.4" r="0.95" fill="#c0c"/>
<circle cx="515.8" cy="407.5" r="0.95" fill="#00c"/>
<circle cx="499.6" cy="415.5" r="0.95" fill="#2c2"/>
<circle cx="501.1" cy="379.2" r="0.95" fill="#0ee"/>
<circle cx="537.3" cy="408.3" r="0.95" fill="#00c"/>
<circle cx="556.0" cy="409.7" r="0.95" fill="#222"/>
<circle cx="520.4" cy="369.0" r="0.95" fill="#e00"/>
<circle cx="544.6" cy="396.6" r="0.95" fill="#2c2"/>
<circle cx="496.5" cy="411.4" r="0.95" fill="#00c"/>
<circle cx="533.4" cy="368.9" r="0.95" fill="#0ee"/>
<circle cx="541.1" cy="360.8" r="0.95" fill="#c0c"/>
<circle cx="498.9" cy="398.8" r="0.95" fill="#00c"/>
<circle cx="477.2" cy="390.8" r="0.95" fill="#2c2"/>
<circle cx="483.8" cy="406.2" r="0.95" fill="#0ee"/>
<circle cx="503.7" cy="394.0" r="0.95" fill="#00c"/>
<circle cx="478.9" cy="382.4" r="0.95" fill="#222"/>
<circle cx="557.3" cy="400.1" r="0.95" fill="#e00"/>
<circle cx="468.2" cy="410.3" r="0.95" fill="#2c2"/>
<circle cx="555.6" cy="381.7" r="0.95" fill="#00c"/>
<circle cx="572.3" cy="366.7" r="0.95" fill="#0ee"/>
<circle cx="524.3" cy="414.5" r="0.95" fill="#c0c"/>
<circle cx="568.9" cy="418.2" r="0.95" fill="#00c"/>
<circle cx="492.0" cy="350.8" r="0.95" fill="#2c2"/>
<circle cx="539.5" cy="358.5" r="0.95" fill="#0ee"/>
<circle cx="522.8" cy="361.8" r="0.95" fill="#00c"/>
<line x1="526.80" y1="387.20" x2="510.51" y2="321.85" stroke="#2020c8" stroke-width="1.1"/>
<polygon points="509.30,317.00 513.18,322.22 508.33,323.43" fill="#1515c0"/>
<line x1="526.80" y1="387.20" x2="506.84" y2="359.74" stroke="#2020c8" stroke-width="1.1"/>
<polygon points="503.90,355.70 509.45,359.08 505.41,362.02" fill="#1515c0"/>
<line x1="526.80" y1="387.20" x2="561.50" y2="364.72" stroke="#2020c8" stroke-width="1.1"/>
<polygon points="565.70,362.00 562.02,367.36 559.31,363.16" fill="#1515c0"/>
<line x1="526.80" y1="387.20" x2="585.18" y2="371.31" stroke="#2020c8" stroke-width="1.1"/>
<polygon points="590.00,370.00 584.87,373.99 583.55,369.16" fill="#1515c0"/>
<line x1="526.80" y1="387.20" x2="574.12" y2="376.59" stroke="#2020c8" stroke-width="1.1"/>
<polygon points="579.00,375.50 573.69,379.25 572.60,374.37" fill="#1515c0"/>
<line x1="526.80" y1="387.20" x2="572.08" y2="378.90" stroke="#2020c8" stroke-width="1.1"/>
<polygon points="577.00,378.00 571.55,381.54 570.65,376.62" fill="#1515c0"/>
<line x1="526.80" y1="387.20" x2="564.05" y2="381.73" stroke="#2020c8" stroke-width="1.1"/>
<polygon points="569.00,381.00 563.43,384.35 562.70,379.40" fill="#1515c0"/>
<line x1="526.80" y1="387.20" x2="555.04" y2="383.63" stroke="#2020c8" stroke-width="1.1"/>
<polygon points="560.00,383.00 554.36,386.23 553.73,381.27" fill="#1515c0"/>
<line x1="526.80" y1="387.20" x2="460.67" y2="394.92" stroke="#2020c8" stroke-width="1.1"/>
<polygon points="455.70,395.50 461.37,392.32 461.95,397.29" fill="#1515c0"/>
<line x1="526.80" y1="387.20" x2="470.34" y2="396.21" stroke="#2020c8" stroke-width="1.1"/>
<polygon points="465.40,397.00 470.93,393.59 471.72,398.52" fill="#1515c0"/>
<line x1="526.80" y1="387.20" x2="508.92" y2="421.37" stroke="#2020c8" stroke-width="1.1"/>
<polygon points="506.60,425.80 507.17,419.32 511.60,421.64" fill="#1515c0"/>
<line x1="526.80" y1="387.20" x2="566.30" y2="437.27" stroke="#2020c8" stroke-width="1.1"/>
<polygon points="569.40,441.20 563.72,438.04 567.65,434.94" fill="#1515c0"/>
<circle cx="565.7" cy="362" r="2.3" fill="#10109a"/>
<circle cx="506.6" cy="425.8" r="2.3" fill="#10109a"/>
<text x="508.80" y="318.00" font-family="Liberation Sans" font-size="6.4" text-anchor="start" fill="#111" font-weight="normal" >Cohesiveness Ratio</text>
<text x="502.90" y="354.30" font-family="Liberation Sans" font-size="6.4" text-anchor="start" fill="#554466" font-weight="normal" >Moisture loss</text>
<text x="568.30" y="360.70" font-family="Liberation Sans" font-size="5.7" text-anchor="start" fill="#222" font-weight="normal" >Total soluble solids</text>
<text x="591.30" y="368.80" font-family="Liberation Sans" font-size="7" text-anchor="start" fill="#111" font-weight="normal" >L</text>
<text x="583.40" y="376.80" font-family="Liberation Sans" font-size="7.6" text-anchor="start" fill="#000" font-weight="normal" stroke="#000" stroke-width="0.2">Chroma</text>
<text x="577.00" y="380.50" font-family="Liberation Sans" font-size="5.7" text-anchor="start" fill="#333" font-weight="normal" >Titratable acidity</text>
<text x="571.80" y="442.40" font-family="Liberation Sans" font-size="6.5" text-anchor="start" fill="#111" font-weight="normal" >Hardness</text>
<text x="509.80" y="428.00" font-family="Liberation Sans" font-size="7" text-anchor="start" fill="#111" font-weight="normal" >H</text>
<text x="455.70" y="394.50" font-family="Liberation Sans" font-size="6" text-anchor="start" fill="#111" font-weight="normal" >ΔE</text>
<text x="406.20" y="377.90" font-family="Liberation Sans" font-size="8" text-anchor="middle" fill="#222" font-weight="normal" transform="rotate(90 406.2 375)">PC3 (11.5%)</text>
<text x="466.00" y="481.30" font-family="Liberation Sans" font-size="6.8" text-anchor="middle" fill="#333" font-weight="normal" transform="rotate(23 466 479)">PC1 (50.5%)</text>
<text x="616.30" y="475.60" font-family="Liberation Sans" font-size="6.6" text-anchor="middle" fill="#333" font-weight="normal" transform="rotate(-31 616.3 473.3)">PC2 (15.1%)</text>
<rect x="664.6" y="281" width="129.6" height="133.2" fill="#fff" stroke="#999" stroke-width="0.6"/>
<circle cx="676.5" cy="287.4" r="1.1" fill="#000"/>
<text x="687.50" y="289.30" font-family="Liberation Sans" font-size="5.3" text-anchor="start" fill="#000" font-weight="normal" >0.001% Alginate</text>
<circle cx="676.5" cy="297.7" r="1.1" fill="#e00"/>
<text x="687.50" y="299.60" font-family="Liberation Sans" font-size="5.3" text-anchor="start" fill="#000" font-weight="normal" >0.005% Alginate</text>
<circle cx="676.5" cy="308.0" r="1.1" fill="#2c2"/>
<text x="687.50" y="309.90" font-family="Liberation Sans" font-size="5.3" text-anchor="start" fill="#000" font-weight="normal" >1% Chitosan</text>
<circle cx="676.5" cy="318.3" r="1.1" fill="#00c"/>
<text x="687.50" y="320.20" font-family="Liberation Sans" font-size="5.3" text-anchor="start" fill="#000" font-weight="normal" >2% Chitosan</text>
<circle cx="676.5" cy="328.6" r="1.1" fill="#0ee"/>
<text x="687.50" y="330.50" font-family="Liberation Sans" font-size="5.3" text-anchor="start" fill="#000" font-weight="normal" >Control</text>
<circle cx="676.5" cy="338.9" r="1.1" fill="#c0c"/>
<text x="687.50" y="340.80" font-family="Liberation Sans" font-size="5.3" text-anchor="start" fill="#000" font-weight="normal" >Freshness Paper</text>
<rect x="667.4" y="344.8" width="17.4" height="9.2" fill="#dcdcdc"/>
<text x="687.50" y="351.30" font-family="Liberation Sans" font-size="5.3" text-anchor="start" fill="#000" font-weight="normal" >95% Confidence Ellipse for 0.001% Alginate</text>
<rect x="667.4" y="354.8" width="17.4" height="9.2" fill="#fadada"/>
<text x="687.50" y="361.35" font-family="Liberation Sans" font-size="5.3" text-anchor="start" fill="#000" font-weight="normal" >95% Confidence Ellipse for 0.005% Alginate</text>
<rect x="667.4" y="364.9" width="17.4" height="9.2" fill="#e0fae0"/>
<text x="687.50" y="371.40" font-family="Liberation Sans" font-size="5.3" text-anchor="start" fill="#000" font-weight="normal" >95% Confidence Ellipse for 1% Chitosan</text>
<rect x="667.4" y="374.9" width="17.4" height="9.2" fill="#dedef4"/>
<text x="687.50" y="381.45" font-family="Liberation Sans" font-size="5.3" text-anchor="start" fill="#000" font-weight="normal" >95% Confidence Ellipse for 2% Chitosan</text>
<rect x="667.4" y="385.0" width="17.4" height="9.2" fill="#dcfafa"/>
<text x="687.50" y="391.50" font-family="Liberation Sans" font-size="5.3" text-anchor="start" fill="#000" font-weight="normal" >95% Confidence Ellipse for Control</text>
<rect x="667.4" y="395.0" width="17.4" height="9.2" fill="#f8dcf8"/>
<text x="687.50" y="401.55" font-family="Liberation Sans" font-size="5.3" text-anchor="start" fill="#000" font-weight="normal" >95% Confidence Ellipse for Freshness Paper</text>
<line x1="666.00" y1="409.50" x2="679.30" y2="409.50" stroke="#0000ee" stroke-width="1.2"/>
<polygon points="685.30,409.50 678.30,412.30 678.30,406.70" fill="#0000ee"/>
<text x="687.50" y="411.40" font-family="Liberation Sans" font-size="5.4" text-anchor="start" fill="#000" font-weight="normal" >Loadings</text>
</svg></body></html>
